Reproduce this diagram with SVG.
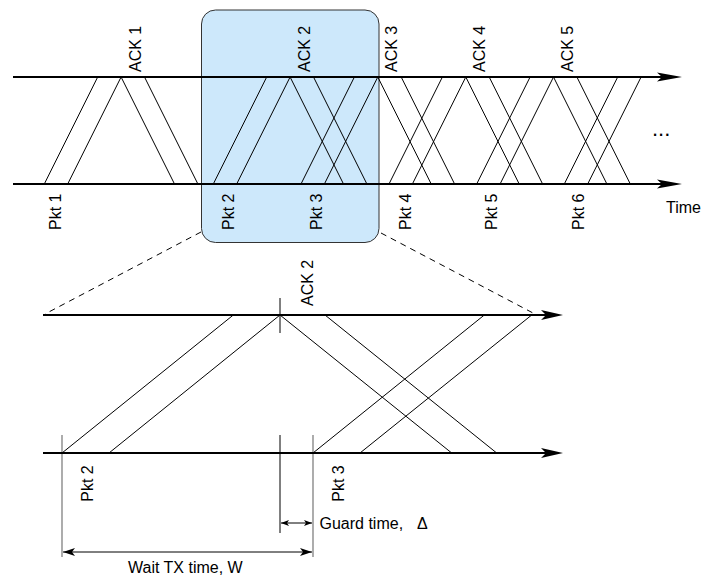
<svg xmlns="http://www.w3.org/2000/svg" width="703" height="576" viewBox="0 0 703 576">
<defs>
<style>
.t{font-family:"Liberation Sans",Arial,sans-serif;font-size:16px;fill:#000}
.ax{stroke:#000;stroke-width:2;fill:none}
.ln{stroke:#000;stroke-width:1;fill:none}
.gr{stroke:#808080;stroke-width:1.3;fill:none}
.dash{stroke:#000;stroke-width:1;stroke-dasharray:6 5;fill:none}
.ah{fill:#000;stroke:none}
</style>
<marker id="dimL" markerWidth="12" markerHeight="8" refX="0" refY="4" orient="auto" markerUnits="userSpaceOnUse">
<path d="M0,4 L12,0 L9,4 L12,8 Z" fill="#000"/>
</marker>
<marker id="dimR" markerWidth="12" markerHeight="8" refX="12" refY="4" orient="auto" markerUnits="userSpaceOnUse">
<path d="M12,4 L0,0 L3,4 L0,8 Z" fill="#000"/>
</marker>
<marker id="gL" markerWidth="8" markerHeight="6" refX="0" refY="3" orient="auto" markerUnits="userSpaceOnUse">
<path d="M0,3 L8,0 L6,3 L8,6 Z" fill="#000"/>
</marker>
<marker id="gR" markerWidth="8" markerHeight="6" refX="8" refY="3" orient="auto" markerUnits="userSpaceOnUse">
<path d="M8,3 L0,0 L2,3 L0,6 Z" fill="#000"/>
</marker>
</defs>
<rect width="703" height="576" fill="#fff"/>

<g id="zoom-box">
<rect x="201.5" y="10" width="177.5" height="232.5" rx="14" ry="14" fill="#cde8fb" stroke="#333" stroke-width="1"/>
</g>

<g id="top-axes">
<line class="ax" x1="13" y1="77" x2="662" y2="77"/>
<path class="ah" d="M682,77 L657,72.5 L662,77 L657,81.5 Z"/>
<line class="ax" x1="13" y1="184" x2="662" y2="184"/>
<path class="ah" d="M682,184 L657,179.5 L662,184 L657,188.5 Z"/>
</g>

<g id="connectors">
<g id="top-lines" class="ln">
<line x1="44.3" y1="184" x2="97.7" y2="77"/>
<line x1="67.7" y1="184" x2="121.1" y2="77"/>
<line x1="121.1" y1="77" x2="174.5" y2="184"/>
<line x1="144.5" y1="77" x2="197.9" y2="184"/>

<line x1="213.3" y1="184" x2="266.7" y2="77"/>
<line x1="236.7" y1="184" x2="290.1" y2="77"/>
<line x1="290.1" y1="77" x2="343.5" y2="184"/>
<line x1="313.5" y1="77" x2="366.9" y2="184"/>

<line x1="301" y1="184" x2="354.4" y2="77"/>
<line x1="324.4" y1="184" x2="377.8" y2="77"/>
<line x1="377.8" y1="77" x2="431.2" y2="184"/>
<line x1="401.2" y1="77" x2="454.6" y2="184"/>

<line x1="389" y1="184" x2="442.4" y2="77"/>
<line x1="412.4" y1="184" x2="465.8" y2="77"/>
<line x1="465.8" y1="77" x2="519.2" y2="184"/>
<line x1="489.2" y1="77" x2="542.6" y2="184"/>

<line x1="476.7" y1="184" x2="530.1" y2="77"/>
<line x1="500.1" y1="184" x2="553.5" y2="77"/>
<line x1="553.5" y1="77" x2="606.9" y2="184"/>
<line x1="576.9" y1="77" x2="630.3" y2="184"/>

<line x1="564.3" y1="184" x2="617.7" y2="77"/>
<line x1="587.7" y1="184" x2="641.1" y2="77"/>
</g>

<g id="zoom-dashes">
<line class="dash" x1="201" y1="232" x2="45" y2="314"/>
<line class="dash" x1="381" y1="233" x2="533" y2="313"/>
</g>

<g id="bottom-lines" class="ln">
<line x1="62" y1="453" x2="233.3" y2="315"/>
<line x1="109" y1="453" x2="280" y2="315"/>
<line x1="280" y1="315" x2="451.7" y2="453"/>
<line x1="325" y1="315" x2="496.7" y2="453"/>
<line x1="313" y1="453" x2="484.3" y2="315"/>
<line x1="360" y1="453" x2="531.7" y2="315"/>
</g>

<g id="ticks">
<line class="ln" x1="280" y1="298" x2="280" y2="333"/>
<line class="ln" x1="280" y1="435" x2="280" y2="533"/>
<line class="gr" x1="62" y1="435" x2="62" y2="557"/>
<line class="gr" x1="313" y1="435" x2="313" y2="557"/>
</g>

<g id="dimensions">
<line class="ln" x1="281" y1="523" x2="312" y2="523" marker-start="url(#gL)" marker-end="url(#gR)"/>
<line class="ln" x1="63" y1="552" x2="312" y2="552" marker-start="url(#dimL)" marker-end="url(#dimR)"/>
</g>
</g>

<g id="bottom-axes">
<line class="ax" x1="43" y1="315" x2="546" y2="315"/>
<path class="ah" d="M563,315 L541,310 L546,315 L541,320 Z"/>
<line class="ax" x1="43" y1="453" x2="546" y2="453"/>
<path class="ah" d="M563,453 L541,448 L546,453 L541,458 Z"/>
</g>

<g id="labels-top">
<text class="t" transform="translate(140.6,72) rotate(-90)">ACK 1</text>
<text class="t" transform="translate(309.6,72) rotate(-90)">ACK 2</text>
<text class="t" transform="translate(397.3,72) rotate(-90)">ACK 3</text>
<text class="t" transform="translate(485.3,72) rotate(-90)">ACK 4</text>
<text class="t" transform="translate(573,72) rotate(-90)">ACK 5</text>
<text class="t" transform="translate(60.8,230) rotate(-90)">Pkt 1</text>
<text class="t" transform="translate(234,230) rotate(-90)">Pkt 2</text>
<text class="t" transform="translate(321.8,230) rotate(-90)">Pkt 3</text>
<text class="t" transform="translate(410.8,230) rotate(-90)">Pkt 4</text>
<text class="t" transform="translate(497.4,230) rotate(-90)">Pkt 5</text>
<text class="t" transform="translate(584,230) rotate(-90)">Pkt 6</text>
<text class="t" x="652" y="136" style="font-size:22px">...</text>
<text class="t" x="666" y="213">Time</text>
</g>

<g id="labels-bottom">
<text class="t" transform="translate(312.5,306) rotate(-90)">ACK 2</text>
<text class="t" transform="translate(92.5,501.7) rotate(-90)">Pkt 2</text>
<text class="t" transform="translate(343.5,501.7) rotate(-90)">Pkt 3</text>
<text class="t" x="319.5" y="528.5" xml:space="preserve">Guard time,  <tspan dx="5">Δ</tspan></text>
<text class="t" x="128" y="573">Wait TX time, W</text>
</g>
</svg>
